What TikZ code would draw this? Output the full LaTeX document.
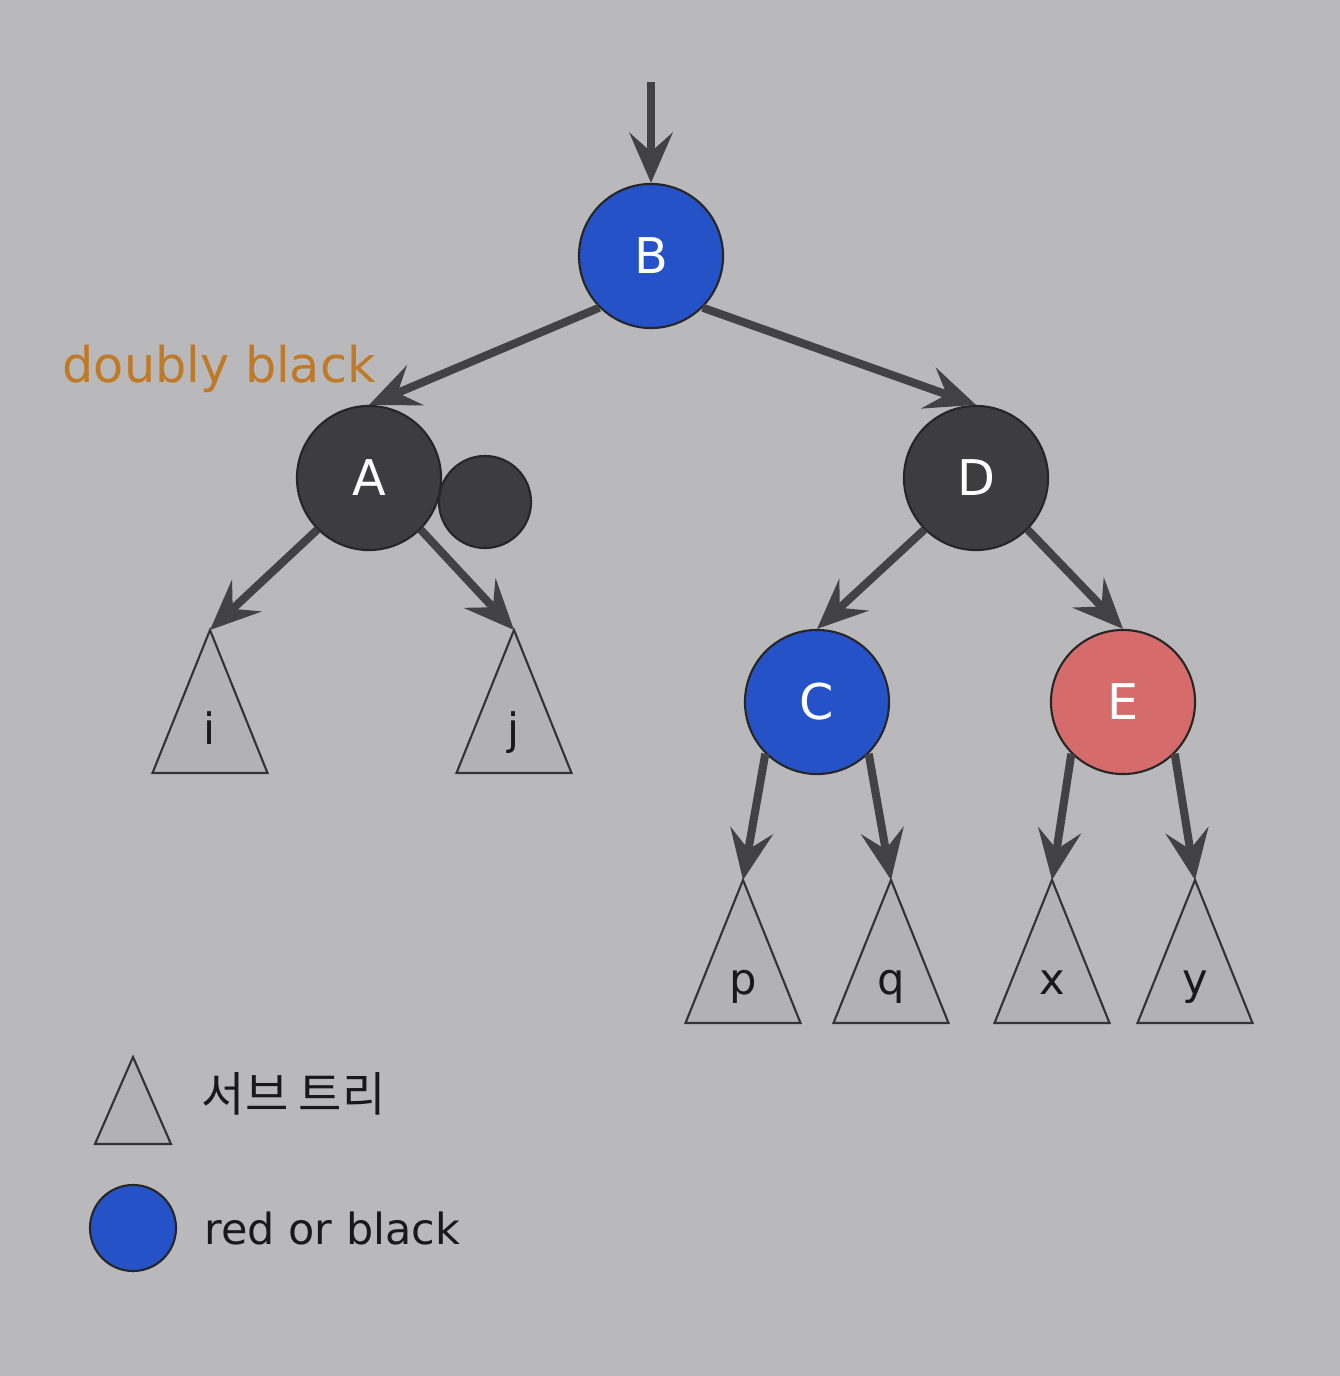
\documentclass[tikz,border=0pt]{standalone}
\usepackage{fontspec}
\setmainfont{DejaVu Sans}
\newfontfamily\krfont{Noto Sans CJK KR}
\usetikzlibrary{arrows.meta}
\definecolor{bg}{HTML}{B9B8BB}
\definecolor{nblue}{HTML}{2652C8}
\definecolor{ndark}{HTML}{3D3C3F}
\definecolor{nred}{HTML}{D66B6B}
\definecolor{edgec}{HTML}{424144}
\definecolor{trif}{HTML}{B2B1B4}
\definecolor{orng}{HTML}{C07A27}
\newcommand\mysubtree[4]{%
  \coordinate (#1) at (#2,#3);
  \draw[tri] (#1) -- ++(-57.5,143) -- ++(115,0) -- cycle;
  \node[tlabel] (#1-lab) at ([shift={(0,114)}]#1) {#4};
}
\begin{document}
\begin{tikzpicture}[x=0.01cm,y=-0.01cm,
  rb/.style={circle, draw=black!85, line width=0.6pt, minimum size=1.44cm, inner sep=0pt, text=white, font=\fontsize{14}{14}\selectfont},
  bluenode/.style={rb, fill=nblue},
  darknode/.style={rb, fill=ndark},
  rednode/.style={rb, fill=nred},
  edge/.style={draw=edgec, line width=2.3pt, -{Stealth[length=0.5cm,width=0.43cm,inset=0.19cm]}},
  tri/.style={draw=black!80, fill=trif, line width=0.6pt, line join=miter},
  tlabel/.style={anchor=base, font=\fontsize{12.3}{12.3}\selectfont, text=black!90, inner sep=0pt}]

\fill[bg] (0,0) rectangle (1340,1376);
\useasboundingbox (0,0) rectangle (1340,1376);

% nodes
\node[bluenode] (B) at (651,256) {B};
\node[darknode] (A) at (369,478) {A};
\node[darknode, minimum size=0.92cm] (A2) at (485,502) {};
\node[darknode] (D) at (976,478) {D};
\node[bluenode] (C) at (817,702) {C};
\node[rednode] (E) at (1123,702) {E};

% subtrees
\mysubtree{ti}{210}{630}{i}
\mysubtree{tj}{514}{630}{j}
\mysubtree{tp}{743}{880}{p}
\mysubtree{tq}{891}{880}{q}
\mysubtree{tx}{1052}{880}{x}
\mysubtree{ty}{1195}{880}{y}

% connectors
\coordinate (top) at (651,82);
\draw[edge] (top) -- (B.north);
\draw[edge] (B.225) -- (A.north);
\draw[edge] (B.315) -- (D.north);
\draw[edge] (A.225) -- (ti);
\draw[edge] (A.315) -- (tj);
\draw[edge] (D.225) -- (C.north);
\draw[edge] (D.315) -- (E.north);
\draw[edge] (C.225) -- (tp);
\draw[edge] (C.315) -- (tq);
\draw[edge] (E.225) -- (tx);
\draw[edge] (E.315) -- (ty);

% label
\node[anchor=base west, inner sep=0pt, text=orng, font=\fontsize{14}{14}\selectfont] (db) at (62,382) {doubly black};

% legend
\coordinate (lt) at (133,1057);
\draw[tri] (lt) -- ++(-38,87) -- ++(76,0) -- cycle;
\node[anchor=base west, inner sep=0pt, text=black!90, font=\krfont\fontsize{13.4}{13.4}\selectfont] (ltext) at (201,1111) {서브 트리};
\node[circle, draw=black!85, line width=0.6pt, fill=nblue, minimum size=0.86cm, inner sep=0pt] (lc) at (133,1228) {};
\node[anchor=base west, inner sep=0pt, text=black!90, font=\fontsize{12.2}{12.2}\selectfont] (lctext) at (204,1244) {red or black};
\end{tikzpicture}
\end{document}
